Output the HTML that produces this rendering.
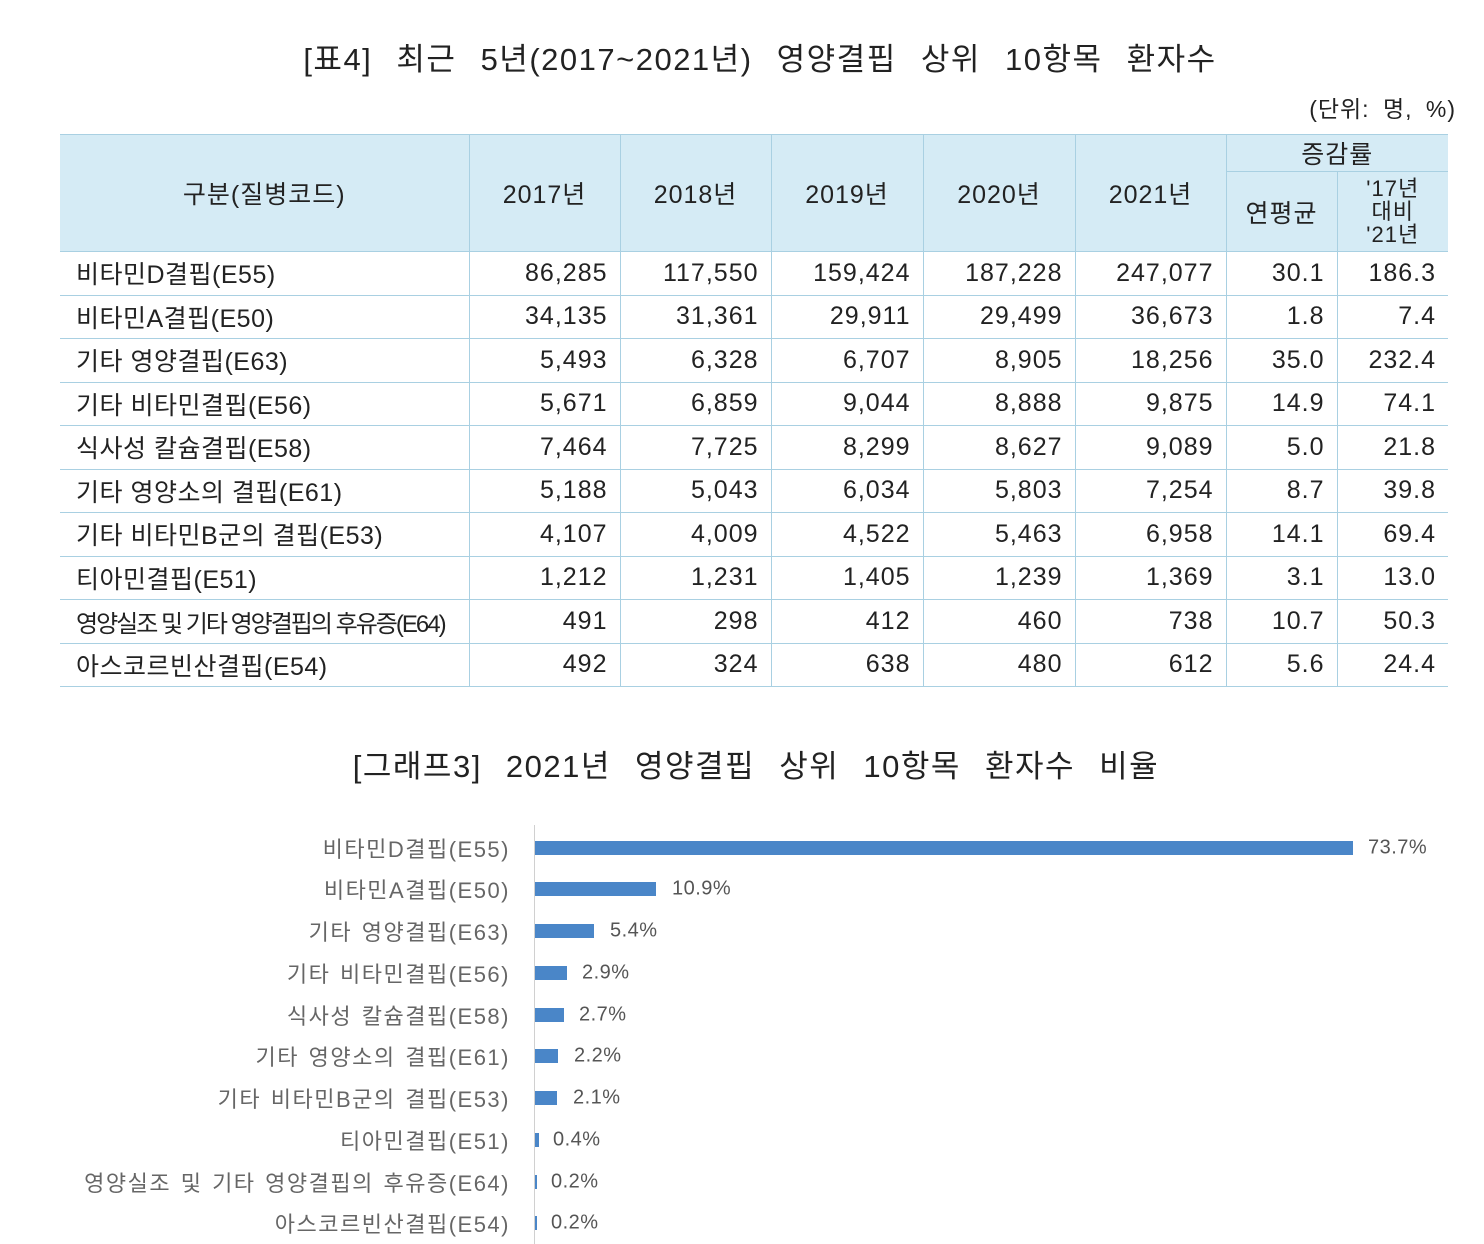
<!DOCTYPE html>
<html><head><meta charset="utf-8"><style>
body{margin:0;width:1484px;height:1244px;background:#fff;position:relative;overflow:hidden;font-family:"Liberation Sans","Noto Sans CJK KR",sans-serif;color:#222}
.t{position:absolute;white-space:nowrap}
table{position:absolute;left:60px;top:134px;border-collapse:collapse;table-layout:fixed}
td,th{border:1px solid #a9d0e2;font-weight:normal;font-size:25px;padding:0;overflow:hidden;white-space:nowrap;letter-spacing:1px}
table{border-left:none;border-right:none}
tr>*:first-child{border-left:none}
tr>*:last-child{border-right:none}
th{background:#d5ebf5;text-align:center}
td{text-align:right;padding-right:12px;height:42.5px}
td.l{text-align:left;padding-left:16px;padding-right:0;letter-spacing:0.5px}
.lab{position:absolute;right:974px;font-size:22px;letter-spacing:1.5px;word-spacing:2px;color:#666;white-space:nowrap;transform:translateY(-50%)}
.bar{position:absolute;left:535px;height:14px;background:#4a86c8}
.val{position:absolute;font-size:20px;letter-spacing:0.5px;color:#555;transform:translateY(-50%)}
</style></head><body>
<div class="t" style="left:0;width:1484px;top:34px;text-align:center;font-size:31px;letter-spacing:1.5px;word-spacing:14px;padding-left:36px;box-sizing:border-box">[표4] 최근 5년(2017~2021년) 영양결핍 상위 10항목 환자수</div>
<div class="t" style="right:28px;top:90px;font-size:23px;letter-spacing:1px;word-spacing:6px">(단위: 명, %)</div>
<table>
<colgroup><col style="width:409px"><col style="width:151px"><col style="width:151px"><col style="width:152px"><col style="width:152px"><col style="width:151px"><col style="width:111px"><col style="width:111px"></colgroup>
<tr style="height:35px"><th rowspan="2">구분(질병코드)</th><th rowspan="2">2017년</th><th rowspan="2">2018년</th><th rowspan="2">2019년</th><th rowspan="2">2020년</th><th rowspan="2">2021년</th><th colspan="2">증감률</th></tr>
<tr style="height:80px"><th>연평균</th><th style="font-size:22px;line-height:23px">'17년<br>대비<br>'21년</th></tr>
<tr><td class="l">비타민D결핍(E55)</td><td>86,285</td><td>117,550</td><td>159,424</td><td>187,228</td><td>247,077</td><td>30.1</td><td>186.3</td></tr>
<tr><td class="l">비타민A결핍(E50)</td><td>34,135</td><td>31,361</td><td>29,911</td><td>29,499</td><td>36,673</td><td>1.8</td><td>7.4</td></tr>
<tr><td class="l">기타 영양결핍(E63)</td><td>5,493</td><td>6,328</td><td>6,707</td><td>8,905</td><td>18,256</td><td>35.0</td><td>232.4</td></tr>
<tr><td class="l">기타 비타민결핍(E56)</td><td>5,671</td><td>6,859</td><td>9,044</td><td>8,888</td><td>9,875</td><td>14.9</td><td>74.1</td></tr>
<tr><td class="l">식사성 칼슘결핍(E58)</td><td>7,464</td><td>7,725</td><td>8,299</td><td>8,627</td><td>9,089</td><td>5.0</td><td>21.8</td></tr>
<tr><td class="l">기타 영양소의 결핍(E61)</td><td>5,188</td><td>5,043</td><td>6,034</td><td>5,803</td><td>7,254</td><td>8.7</td><td>39.8</td></tr>
<tr><td class="l">기타 비타민B군의 결핍(E53)</td><td>4,107</td><td>4,009</td><td>4,522</td><td>5,463</td><td>6,958</td><td>14.1</td><td>69.4</td></tr>
<tr><td class="l">티아민결핍(E51)</td><td>1,212</td><td>1,231</td><td>1,405</td><td>1,239</td><td>1,369</td><td>3.1</td><td>13.0</td></tr>
<tr><td class="l" style="letter-spacing:-2px;font-size:24px">영양실조 및 기타 영양결핍의 후유증(E64)</td><td>491</td><td>298</td><td>412</td><td>460</td><td>738</td><td>10.7</td><td>50.3</td></tr>
<tr><td class="l">아스코르빈산결핍(E54)</td><td>492</td><td>324</td><td>638</td><td>480</td><td>612</td><td>5.6</td><td>24.4</td></tr>
</table>
<div class="t" style="left:0;width:1484px;top:741px;text-align:center;font-size:31px;letter-spacing:1.5px;word-spacing:14px;padding-left:28px;box-sizing:border-box">[그래프3] 2021년 영양결핍 상위 10항목 환자수 비율</div>
<div style="position:absolute;left:534px;top:825px;width:1px;height:419px;background:#d0d0d0"></div>
<div class="lab" style="top:848px">비타민D결핍(E55)</div><div class="bar" style="top:841px;width:818px"></div><div class="val" style="top:848px;left:1368px">73.7%</div>
<div class="lab" style="top:889px">비타민A결핍(E50)</div><div class="bar" style="top:882px;width:121px"></div><div class="val" style="top:889px;left:672px">10.9%</div>
<div class="lab" style="top:931px">기타 영양결핍(E63)</div><div class="bar" style="top:924px;width:59px"></div><div class="val" style="top:931px;left:610px">5.4%</div>
<div class="lab" style="top:973px">기타 비타민결핍(E56)</div><div class="bar" style="top:966px;width:32px"></div><div class="val" style="top:973px;left:582px">2.9%</div>
<div class="lab" style="top:1015px">식사성 칼슘결핍(E58)</div><div class="bar" style="top:1008px;width:29px"></div><div class="val" style="top:1015px;left:579px">2.7%</div>
<div class="lab" style="top:1056px">기타 영양소의 결핍(E61)</div><div class="bar" style="top:1049px;width:23px"></div><div class="val" style="top:1056px;left:574px">2.2%</div>
<div class="lab" style="top:1098px">기타 비타민B군의 결핍(E53)</div><div class="bar" style="top:1091px;width:22px"></div><div class="val" style="top:1098px;left:573px">2.1%</div>
<div class="lab" style="top:1140px">티아민결핍(E51)</div><div class="bar" style="top:1133px;width:4px"></div><div class="val" style="top:1140px;left:553px">0.4%</div>
<div class="lab" style="top:1182px">영양실조 및 기타 영양결핍의 후유증(E64)</div><div class="bar" style="top:1175px;width:2px"></div><div class="val" style="top:1182px;left:551px">0.2%</div>
<div class="lab" style="top:1223px">아스코르빈산결핍(E54)</div><div class="bar" style="top:1216px;width:2px"></div><div class="val" style="top:1223px;left:551px">0.2%</div>
</body></html>
